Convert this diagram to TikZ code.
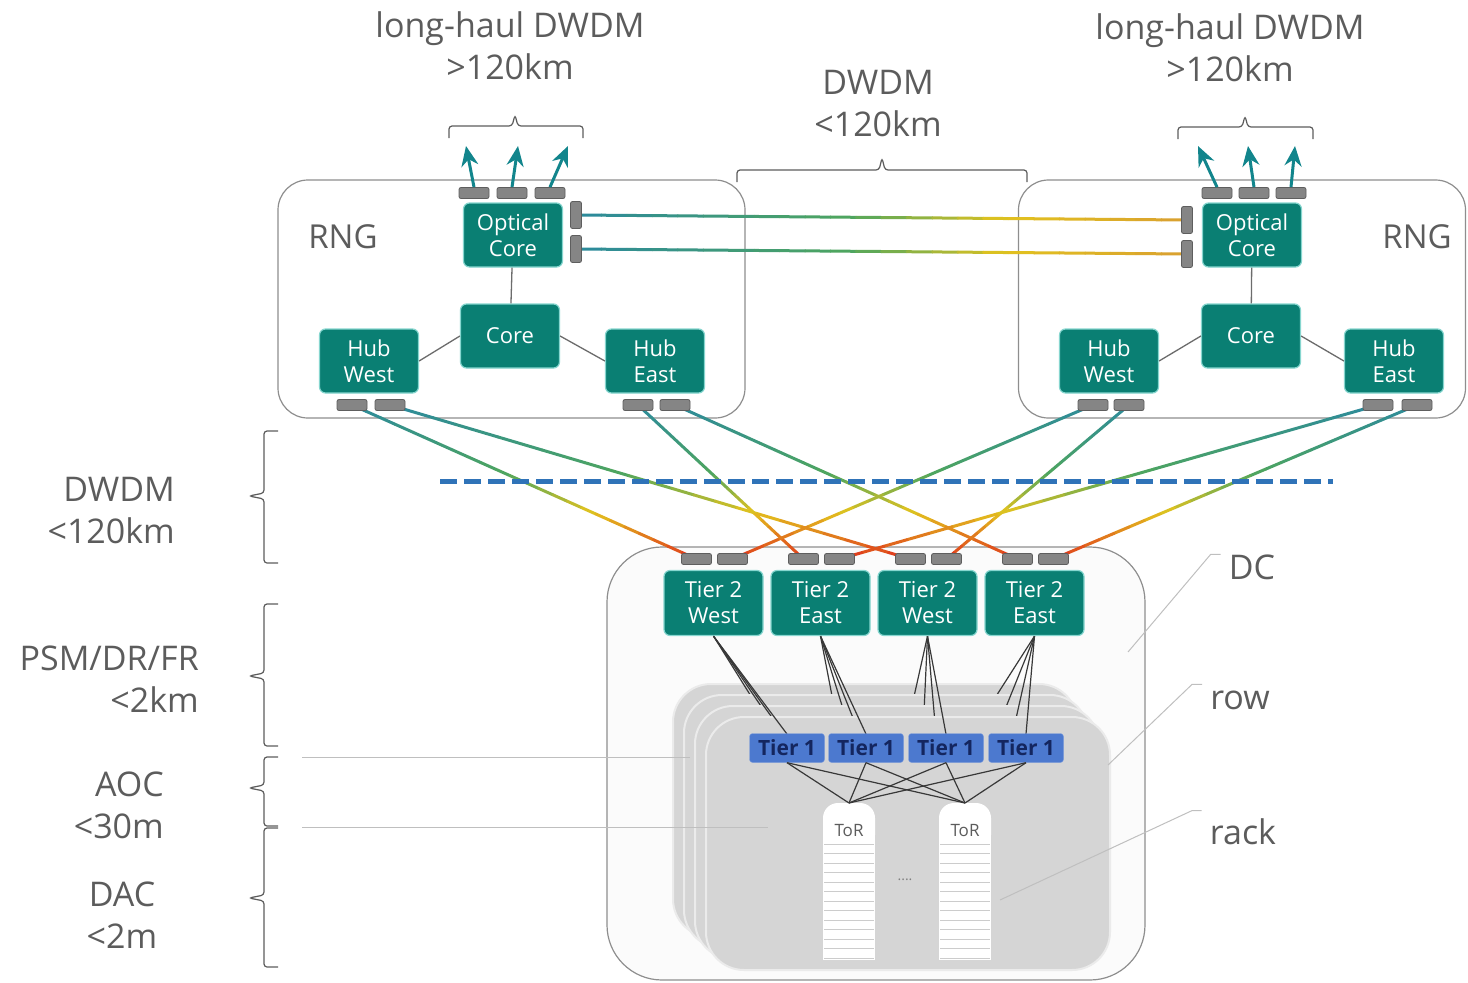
\documentclass[tikz,border=0pt]{standalone}
\usepackage{fontspec}
\setmainfont{Open Sans}
\usetikzlibrary{arrows.meta,positioning,calc}
\definecolor{swTeal}{HTML}{0A7F73}
\definecolor{swGlow}{HTML}{86D6CF}
\definecolor{portGray}{HTML}{858585}
\definecolor{portDark}{HTML}{5E5E5E}
\definecolor{txtGray}{HTML}{5C5C5C}
\definecolor{boxLine}{HTML}{8E8E8E}
\definecolor{dcFill}{HTML}{FBFBFB}
\definecolor{tierBlue}{HTML}{4C79CF}
\definecolor{tierInk}{HTML}{14265F}
\definecolor{rowGray}{HTML}{D5D5D5}
\definecolor{rowEdge}{HTML}{EBEBEB}
\definecolor{fibTeal}{HTML}{2C8A9C}
\definecolor{fibGreen}{HTML}{4FA65E}
\definecolor{fibYellow}{HTML}{E2C21E}
\definecolor{fibRed}{HTML}{E0361C}
\definecolor{fibOrange}{HTML}{D9A030}
\definecolor{dashBlue}{HTML}{2F73B8}
\definecolor{arrowTeal}{HTML}{12858C}
\newcommand{\bigfont}{\fontsize{34}{42}\selectfont}
\newcommand{\rngfont}{\fontsize{33}{40}\selectfont}
\newcommand{\swfont}{\fontsize{22}{26}\selectfont}

\pgfdeclarelayer{background}
\pgfdeclarelayer{fibres}
\pgfsetlayers{background,fibres,main}

% fibre: teal at the start, red (or #1) at the end
\newcommand{\fibre}[3][fibRed]{%
  \foreach \k in {1,...,24}{%
    \pgfmathsetmacro\fa{(\k-1)/24}%
    \pgfmathsetmacro\fb{\k/24}%
    \pgfmathsetmacro\fs{(\k-0.5)/24}%
    \pgfmathtruncatemacro\fseg{\fs<0.45 ? 0 : (\fs<0.7 ? 1 : 2)}%
    \ifcase\fseg
      \pgfmathtruncatemacro\fp{\fs/0.45*100}\def\fcol{fibGreen!\fp!fibTeal}%
    \or
      \pgfmathtruncatemacro\fp{(\fs-0.45)/0.25*100}\def\fcol{fibYellow!\fp!fibGreen}%
    \else
      \pgfmathtruncatemacro\fp{(\fs-0.7)/0.3*100}\def\fcol{#1!\fp!fibYellow}%
    \fi
    \draw[fibreline, draw=\fcol] ($(#2)!\fa!(#3)$) -- ($(#2)!\fb!(#3)$);
  }}

\tikzset{
  site/.style={draw=boxLine, fill=white, line width=1.2pt, rounded corners=30pt},
  sw/.style={fill=swTeal, draw=swGlow, line width=1.2pt, rounded corners=6pt, text=white,
    align=center, font=\swfont, minimum width=99pt, minimum height=64pt, inner sep=0pt},
  port/.style={fill=portGray, draw=portDark, line width=0.8pt, rounded corners=2pt,
    minimum width=30pt, minimum height=11pt, inner sep=0pt},
  vport/.style={port, minimum width=11pt, minimum height=27pt},
  tierone/.style={fill=tierBlue, draw=tierBlue!70!white, rounded corners=3pt, text=tierInk,
    font=\fontsize{21}{21}\selectfont\bfseries, minimum width=75pt, minimum height=29pt, inner sep=0pt},
  lbl/.style={text=txtGray, font=\bigfont, align=center, inner sep=0pt},
  link/.style={draw=gray!85!black, line width=1.3pt},
  tierlink/.style={draw=black!78, line width=1.2pt},
  fibreline/.style={line width=3pt, line cap=round},
  uplink/.style={draw=arrowTeal, line width=3pt, -{Stealth[length=20pt,width=17pt]}},
  spanmark/.style={draw=txtGray, line width=1.2pt, rounded corners=3pt},
  rowplate/.style={fill=rowGray, draw=rowEdge, line width=2pt, rounded corners=38pt},
  leader/.style={draw=gray!50, line width=1pt},
  stripe/.style={draw=gray!40, line width=1pt}
}

\begin{document}
\begin{tikzpicture}[x=1pt,y=-1pt]
\useasboundingbox (0,0) rectangle (1468,983);

\begin{pgfonlayer}{background}
  \node[site, minimum width=467pt, minimum height=238pt] (rng-l) at (511.5,299) {};
  \node[site, minimum width=447pt, minimum height=238pt] (rng-r) at (1242,299) {};
  \node[site, fill=dcFill, rounded corners=55pt, minimum width=538pt, minimum height=433pt] (dc) at (876,763.5) {};
\end{pgfonlayer}

% west ring
\node[lbl, font=\rngfont] (rng-l-lbl) at (343,237) {RNG};
\node[sw] (oc-l) at (513,235) {Optical\\Core};
\node[sw] (core-l) at (510,336) {Core};
\node[sw] (hw-l) at (369,361) {Hub\\West};
\node[sw] (he-l) at (655,361) {Hub\\East};
\draw[link] (oc-l) -- (core-l);
\draw[link] (core-l.west) -- (hw-l.east);
\draw[link] (core-l.east) -- (he-l.west);
\node[vport] (ocl-s1) at (576,215) {};
\node[vport] (ocl-s2) at (576,249) {};
\foreach \n/\x/\u in {a/474/466,b/512/518,c/550/568}{
  \node[port] (ocl-\n) at (\x,193) {};
  \coordinate (ocl-\n-up) at (\u,146);
  \draw[uplink] (ocl-\n.north) -- (ocl-\n-up);
}
\foreach \n/\x in {a/352,b/390} \node[port] (hwl-\n) at (\x,405) {};
\foreach \n/\x in {a/638,b/675} \node[port] (hel-\n) at (\x,405) {};

% east ring
\node[lbl, font=\rngfont] (rng-r-lbl) at (1417,237) {RNG};
\node[sw] (oc-r) at (1252,235) {Optical\\Core};
\node[sw] (core-r) at (1251,336) {Core};
\node[sw] (hw-r) at (1109,361) {Hub\\West};
\node[sw] (he-r) at (1394,361) {Hub\\East};
\draw[link] (oc-r) -- (core-r);
\draw[link] (core-r.west) -- (hw-r.east);
\draw[link] (core-r.east) -- (he-r.west);
\node[vport] (ocr-s1) at (1187,220) {};
\node[vport] (ocr-s2) at (1187,254) {};
\foreach \n/\x/\u in {a/1217/1198,b/1254/1248,c/1291/1295}{
  \node[port] (ocr-\n) at (\x,193) {};
  \coordinate (ocr-\n-up) at (\u,146);
  \draw[uplink] (ocr-\n.north) -- (ocr-\n-up);
}
\foreach \n/\x in {a/1093,b/1129} \node[port] (hwr-\n) at (\x,405) {};
\foreach \n/\x in {a/1378,b/1417} \node[port] (her-\n) at (\x,405) {};

% tier 2
\foreach \s/\x/\nm in {1/713.5/West,2/820.5/East,3/927.5/West,4/1034.5/East}{
  \node[sw, minimum height=65pt] (t2-\s) at (\x,603) {Tier 2\\\nm};
  \node[port] (t2p-\s-a) at (\x-17,559) {};
  \node[port] (t2p-\s-b) at (\x+19,559) {};
}

\begin{pgfonlayer}{fibres}
  \fibre{hwl-a}{t2p-1-a}
  \fibre{hwl-b}{t2p-3-a}
  \fibre{hel-a}{t2p-2-a}
  \fibre{hel-b}{t2p-4-a}
  \fibre{hwr-a}{t2p-1-b}
  \fibre{hwr-b}{t2p-3-b}
  \fibre{her-a}{t2p-2-b}
  \fibre{her-b}{t2p-4-b}
  \fibre[fibOrange]{ocl-s1}{ocr-s1}
  \fibre[fibOrange]{ocl-s2}{ocr-s2}
\end{pgfonlayer}

\coordinate (dash-w) at (440,481);
\coordinate (dash-e) at (1333,481);
\draw[dashBlue, line width=5pt, dash pattern=on 17pt off 7pt] (dash-w) -- (dash-e);

% rows, back to front
\foreach \k in {3,2,1}{
  \draw[rowplate] (706-11*\k,717-11*\k) rectangle (1110-11*\k,970-11*\k);
  \foreach \s/\x in {1/787,2/866,3/946,4/1026}{
    \coordinate (t1-\k-\s) at (\x-11*\k,734-11*\k);
    \draw[tierlink] (t2-\s.south) -- (t1-\k-\s);
  }
}
\draw[rowplate] (706,717) rectangle (1110,970);

% racks
\foreach \r/\x in {1/849,2/965}{
  \fill[white, rounded corners=15pt] (\x-26,803) rectangle (\x+26,850);
  \fill[white] (\x-26,825) rectangle (\x+26,960);
  \foreach \yy in {844,853.5,...,958} \draw[stripe] (\x-25,\yy) -- (\x+25,\yy);
  \node[fill=white, text=txtGray, font=\fontsize{17}{17}\selectfont, inner sep=1pt,
    minimum width=50pt] (tor-\r) at (\x,831) {ToR};
  \coordinate (tortop-\r) at (\x,803);
}
\node[text=gray, font=\fontsize{14}{14}\selectfont] (rack-gap) at (905,880) {....};

% tier 1
\foreach \s/\x in {1/787,2/866,3/946,4/1026}{
  \draw[tierlink] (t2-\s.south) -- (\x,734);
  \node[tierone] (t1-\s) at (\x,748) {Tier 1};
  \draw[tierlink] (t1-\s.south) -- (tortop-1);
  \draw[tierlink] (t1-\s.south) -- (tortop-2);
}

% spans on top
\node[lbl] (lh-l) at (510,46) {long-haul DWDM\\>120km};
\node[lbl] (lh-r) at (1230,48) {long-haul DWDM\\>120km};
\node[lbl] (mid-dwdm) at (878,104) {DWDM\\<120km};
\draw[spanmark] (449,138) -- (449,126) -- (512,126) -- (515,115) -- (518,126) -- (583,126) -- (583,138);
\draw[spanmark] (1178,139) -- (1178,127) -- (1242,127) -- (1245,116) -- (1248,127) -- (1313,127) -- (1313,139);
\draw[spanmark] (737,182) -- (737,170) -- (879,170) -- (882,158) -- (885,170) -- (1027,170) -- (1027,182);

% spans on the left
\node[lbl, align=right, anchor=east] (sp-dwdm) at (175,511) {DWDM\\<120km};
\node[lbl, align=right, anchor=east] (sp-psm) at (199,679) {PSM/DR/FR\\<2km};
\node[lbl, align=right, anchor=east] (sp-aoc) at (164,805) {AOC\\<30m};
\node[lbl] (sp-dac) at (122,915) {DAC\\<2m};
\draw[spanmark] (278,431) -- (264,431) -- (264,493) -- (249,496) -- (264,499) -- (264,563) -- (278,563);
\draw[spanmark] (278,604) -- (264,604) -- (264,673) -- (249,676) -- (264,679) -- (264,746) -- (278,746);
\draw[spanmark] (278,757) -- (264,757) -- (264,785) -- (249,788) -- (264,791) -- (264,826) -- (278,826);
\draw[spanmark] (278,828) -- (264,828) -- (264,895) -- (249,898) -- (264,901) -- (264,967) -- (278,967);
\coordinate (aoc-a) at (302,757);
\coordinate (aoc-b) at (690,757);
\coordinate (dac-a) at (302,827);
\coordinate (dac-b) at (768,827);
\draw[leader] (aoc-a) -- (aoc-b);
\draw[leader] (dac-a) -- (dac-b);

% scale labels on the right
\node[lbl] (dc-lbl) at (1252,567) {DC};
\node[lbl] (row-lbl) at (1240,700) {row};
\node[lbl] (rack-lbl) at (1243,832) {rack};
\coordinate (dc-pt) at (1128,652);
\coordinate (row-pt) at (1108,765);
\coordinate (rack-pt) at (1000,900);
\draw[leader] (dc-lbl.north west) ++(-8,0) -- ++(-10,0) -- (dc-pt);
\draw[leader] (row-lbl.north west) ++(-8,-6) -- ++(-10,0) -- (row-pt);
\draw[leader] (rack-lbl.north west) ++(-8,-8) -- ++(-10,0) -- (rack-pt);
\end{tikzpicture}
\end{document}
